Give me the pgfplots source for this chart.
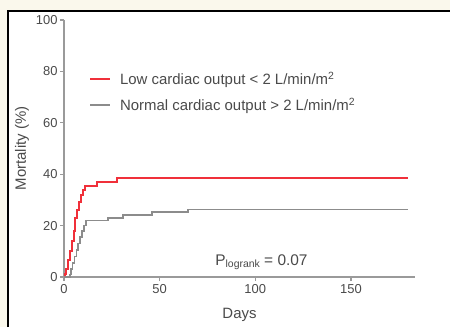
\documentclass[border=0pt]{standalone}
\usepackage{pgfplots}
\pgfplotsset{compat=1.18}
\usepackage{fontspec}
\setmainfont{Liberation Sans}
\definecolor{bgcream}{HTML}{FAF8EC}
\definecolor{txt}{HTML}{4A4A4A}
\definecolor{axgray}{HTML}{9A9A9A}
\definecolor{redline}{HTML}{F0303A}
\definecolor{grayline}{HTML}{8C8C8C}
\begin{document}
\begin{tikzpicture}[x=1bp,y=1bp]
\path[use as bounding box] (0,0) rectangle (450,327);
\fill[bgcream] (0,0) rectangle (450,327);
\fill[white] (8,0) rectangle (450,316);
\draw[black, line width=2bp] (8,0) -- (8,316) -- (450,316);
\begin{axis}[
  at={(64bp,50bp)}, anchor=south west,
  scale only axis, width=351bp, height=257bp,
  xmin=0, xmax=183.5, ymin=0, ymax=100,
  axis x line*=bottom, axis y line*=left,
  axis line style={axgray, line width=1.3bp, -},
  xtick={0,50,100,150}, ytick={0,20,40,60,80,100},
  tick style={axgray, line width=1.2bp},
  tick align=outside, major tick length=4bp,
  ticklabel style={font=\fontsize{13}{15}\selectfont, text=txt},
  xticklabel style={yshift=0bp},
  yticklabel style={xshift=1bp},
  /pgf/number format/assume math mode=true,
  xlabel={Days}, ylabel={Mortality (\%)},
  label style={font=\fontsize{15}{17}\selectfont, text=txt},
  xlabel style={yshift=-8bp},
  ylabel style={yshift=0bp},
  clip=false,
  legend style={at={(axis cs:13,80.5)}, anchor=north west, draw=none, fill=none,
    font=\fontsize{15}{17}\selectfont, text=txt, row sep=7.5bp, inner sep=0pt,
    nodes={inner xsep=9bp}},
  legend cell align=left,
  legend image code/.code={\draw[#1] (0bp,0bp) -- (20bp,0bp);},
]
\addplot[const plot, redline, line width=2bp] coordinates {
 (0,0) (0.5,1) (1,3) (2,6.5) (3,10) (4,14) (5,18) (5.5,21.5) (6,23) (7,26) (8,29) (9,32) (10,34) (11,35.3) (17,37) (27.5,38.5) (180,38.5)
};
\addlegendentry{Low cardiac output < 2 L/min/m\textsuperscript{2}}
\addplot[const plot, grayline, line width=1.7bp] coordinates {
 (0,0) (3,1) (3.5,3) (4.5,5.5) (5.5,8) (6.5,10.5) (7.5,13) (8.5,15.5) (9.5,18) (10.5,20) (11.5,22) (23,23) (31,24) (46,25.3) (65,26.3) (180,26.3)
};
\addlegendentry{Normal cardiac output > 2 L/min/m\textsuperscript{2}}
\node[anchor=base west, text=txt, font=\fontsize{15.5}{18}\selectfont, inner sep=0pt] at (axis cs:79,4.5) {P\raisebox{-2.5bp}{\fontsize{10.5}{12}\selectfont logrank} = 0.07};
\end{axis}
\end{tikzpicture}
\end{document}
